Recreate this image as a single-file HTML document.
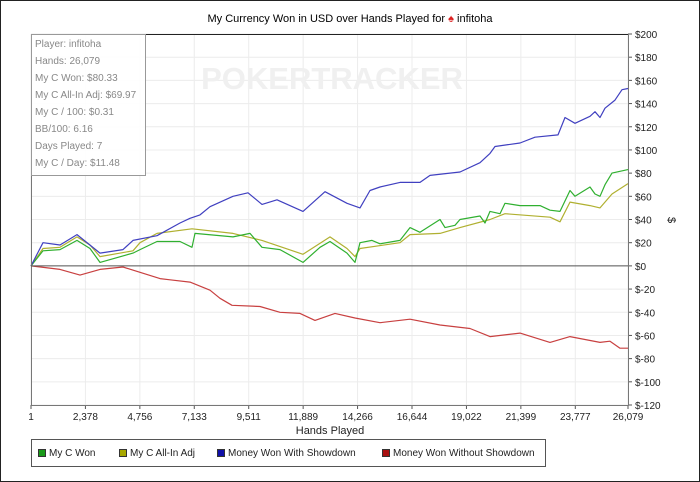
<!DOCTYPE html>
<html><head><meta charset="utf-8"><style>
html,body{margin:0;padding:0;background:#fff}
svg{display:block;font-family:"Liberation Sans",sans-serif}
</style></head><body>
<svg width="700" height="482" viewBox="0 0 700 482">
<rect x="0.5" y="0.5" width="699" height="481" fill="#fff" stroke="#222"/>
<text x="350" y="22" text-anchor="middle" font-size="11" fill="#000">My Currency Won in USD over Hands Played for <tspan fill="#d22">♠</tspan> infitoha</text>
<g id="grid"></g>
<text x="332" y="89" text-anchor="middle" font-size="31" font-weight="bold" fill="#f0f0f0">POKERTRACKER</text>
<g id="series"></g>
<g id="axes"></g>
<text x="330" y="434" text-anchor="middle" font-size="11" fill="#222">Hands Played</text>
<text x="668" y="220" text-anchor="middle" font-size="11" fill="#222" transform="rotate(90 668 220)">$</text>
<g>
<rect x="31.5" y="34.5" width="114" height="141" fill="#fff" fill-opacity="0.9" stroke="#999"/>
<g font-size="10" fill="#888">
<text x="35" y="47">Player: infitoha</text>
<text x="35" y="64">Hands: 26,079</text>
<text x="35" y="81">My C Won: $80.33</text>
<text x="35" y="98">My C All-In Adj: $69.97</text>
<text x="35" y="115">My C / 100: $0.31</text>
<text x="35" y="132">BB/100: 6.16</text>
<text x="35" y="149">Days Played: 7</text>
<text x="35" y="166">My C / Day: $11.48</text>
</g></g>
<g>
<rect x="31.5" y="439.5" width="514" height="27" fill="#fff" stroke="#555"/>
<g font-size="10" fill="#222">
<rect x="38.5" y="449.5" width="7" height="7" fill="#1a9a1a" stroke="#333"/><text x="49" y="456">My C Won</text>
<rect x="119.5" y="449.5" width="7" height="7" fill="#a8a800" stroke="#333"/><text x="130" y="456">My C All-In Adj</text>
<rect x="217.5" y="449.5" width="7" height="7" fill="#1010a8" stroke="#333"/><text x="228" y="456">Money Won With Showdown</text>
<rect x="382.5" y="449.5" width="7" height="7" fill="#a81010" stroke="#333"/><text x="393" y="456">Money Won Without Showdown</text>
</g></g>
</svg>
<script>
const xTicks=[1,2378,4756,7133,9511,11889,14266,16644,19022,21399,23777,26079];
const yTicks=[200,180,160,140,120,100,80,60,40,20,0,-20,-40,-60,-80,-100,-120];
const blueHands=[1,524,1267,2009,3014,4019,4456,5504,6509,6946,7383,7819,8824,9479,10091,10746,11882,12843,13804,14371,14808,15245,16119,16993,17430,18740,19614,20050,20269,21361,22016,23021,23326,23763,24418,24637,24855,25073,25510,25816,26079];
const blueVals=[0,20,18,27,11,14,22,26,37,41,44,51,60,63,53,57,47,64,54,50,65,68,72,72,78,81,89,97,103,106,111,113,128,123,129,133,128,136,143,152,153];
const greenHands=[1,524,1267,2009,2577,3014,4456,4761,5504,6509,7033,7164,8824,9567,10091,10877,11882,12624,13061,13804,13935,14153,14371,14896,15245,16119,16556,16993,17866,18085,18521,18740,19614,19832,20050,20487,20706,21361,22234,22671,23108,23545,23763,24418,24637,24855,25073,25379,26079];
const greenVals=[0,13,14,22,15,3,11,14,21,21,16,28,25,28,16,14,3,16,21,11,8,3,20,22,19,22,33,29,40,33,35,40,43,37,47,45,54,52,52,48,47,65,60,68,62,60,70,80,83];
const yellowHands=[1,524,1267,2009,2577,3014,4456,4761,5504,7033,8824,10091,11882,13061,13804,14153,14371,16119,16556,17866,18740,20050,20706,22671,23108,23545,24418,24855,25379,26079];
const yellowVals=[0,15,16,25,18,8,13,20,28,32,28,22,10,25,15,8,15,20,27,28,33,40,45,42,38,55,52,50,62,71];
const redHands=[1,1267,2140,3014,4019,5635,6072,6946,7819,8256,8780,10003,10877,11751,12406,13280,14153,15245,16556,17866,19177,20050,21361,22671,23545,24855,25292,25729,26079];
const redVals=[0,-3,-8,-3,-1,-11,-12,-14,-21,-28,-34,-35,-40,-41,-47,-41,-45,-49,-46,-51,-54,-61,-58,-66,-61,-66,-65,-71,-71];

const L=31,R=628,T=34,B=405;
const xs=h=>L+(h-1)/(26079-1)*(R-L);
const ys=v=>T+(200-v)/320*(B-T);
const NS="http://www.w3.org/2000/svg";
function mk(tag,attrs,parent){const e=document.createElementNS(NS,tag);for(const k in attrs)e.setAttribute(k,attrs[k]);parent.appendChild(e);return e;}
const grid=document.getElementById('grid'),axes=document.getElementById('axes'),ser=document.getElementById('series');
xTicks.forEach(t=>{
  const x=xs(t);
  const g=mk('line',{x1:x,x2:x,y1:T,y2:B,stroke:'#ececec'},grid);
  
  
  mk('line',{x1:x,x2:x,y1:B,y2:B+4,stroke:'#555'},axes);
  const tx=mk('text',{x:x,y:B+15,'text-anchor':'middle','font-size':'10',fill:'#222'},axes);
  tx.textContent=t.toLocaleString('en-US');
  
  
});
yTicks.forEach(t=>{
  const y=ys(t);
  const g=mk('line',{x1:L,x2:R,y1:y,y2:y,stroke:'#ececec'},grid);
  
  
  mk('line',{x1:R,x2:R+4,y1:y,y2:y,stroke:'#555'},axes);
  const tx=mk('text',{x:R+7,y:y+4,'font-size':'10',fill:'#222'},axes);
  tx.textContent=(t<0?'$-'+(-t):'$'+t);
  
  
});
mk('line',{x1:L,x2:R,y1:T+0.5,y2:T+0.5,stroke:'#222'},axes);
mk('line',{x1:L+0.5,x2:L+0.5,y1:T,y2:B,stroke:'#777'},axes);
mk('line',{x1:R+0.5,x2:R+0.5,y1:T,y2:B,stroke:'#777'},axes);
mk('line',{x1:L,x2:R,y1:B+0.5,y2:B+0.5,stroke:'#777'},axes);
mk('line',{x1:L,x2:R,y1:ys(0),y2:ys(0),stroke:'#555'},axes);
function line(h,v,color,name){
  const d=h.map((hh,i)=>(i?'L':'M')+xs(hh).toFixed(1)+','+ys(v[i]).toFixed(1)).join('');
  const p=mk('path',{d:d,fill:'none',stroke:color,'stroke-width':'1.2','stroke-linejoin':'round'},ser);
  
  
}
line(redHands,redVals,'#c84040','line-without-showdown');
line(yellowHands,yellowVals,'#b0b030','line-all-in-adj');
line(greenHands,greenVals,'#30b030','line-my-c-won');
line(blueHands,blueVals,'#4040c0','line-with-showdown');
</script>
</body></html>
